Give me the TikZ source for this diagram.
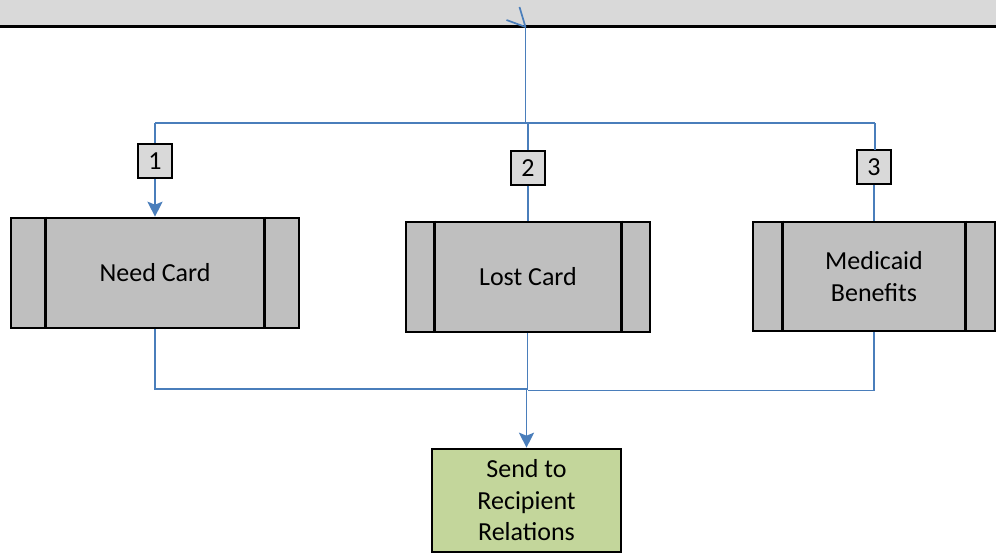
\documentclass[tikz,border=0pt]{standalone}
\usepackage{fontspec}
\setmainfont{Carlito}
\usetikzlibrary{arrows.meta}
\definecolor{flowblue}{HTML}{4A7EBB}
\definecolor{procgray}{HTML}{BFBFBF}
\definecolor{lanegray}{HTML}{D9D9D9}
\definecolor{sendgreen}{HTML}{C3D69B}
\tikzset{
  x=1pt, y=-1pt,
  txt/.style={font=\fontsize{26}{31.5}\selectfont, align=center},
  procbox/.style={txt, draw=black, line width=2.6pt, fill=procgray, minimum height=110pt, inner sep=0pt},
  numbox/.style={txt, draw=black, line width=2.6pt, fill=lanegray, minimum width=34pt, minimum height=34pt, inner sep=0pt},
  sendbox/.style={txt, draw=black, line width=2.6pt, fill=sendgreen, minimum width=189pt, minimum height=103pt, inner sep=0pt},
  flow/.style={draw=flowblue, line width=1.7pt},
  tip/.style={-{Stealth[length=15pt,width=15pt,inset=3pt]}},
}
\begin{document}
\begin{tikzpicture}
\useasboundingbox (0,0) rectangle (996,556);
% header lane
\fill[lanegray] (0,0) rectangle (996,27);
\draw[black, line width=3pt] (0,27) -- (996,27);

% process boxes
\node[procbox, minimum width=288pt] (need) at (155,273) {Need Card};
\node[procbox, minimum width=244pt] (lost) at (528,277) {Lost Card};
\node[procbox, minimum width=242pt, minimum height=109pt] (med) at (874,276.5) {Medicaid\\Benefits};
\foreach \n/\d in {need/36, lost/30, med/31}{
  \draw[line width=2.6pt] ([xshift=\d pt]\n.north west) -- ([xshift=\d pt]\n.south west);
  \draw[line width=2.6pt] ([xshift=-\d pt]\n.north east) -- ([xshift=-\d pt]\n.south east);
}
\node[sendbox] (send) at (526.5,500.5) {Send to\\Recipient\\Relations};

% branch labels
\node[numbox] (l1) at (155,161) {1};
\node[numbox] (l2) at (528,168) {2};
\node[numbox] (l3) at (874,167) {3};

% incoming flow
\coordinate (entry) at (525.5,27);
\coordinate (split) at (525.5,123);
\coordinate (s1) at (155,123);
\coordinate (s2) at (528,123);
\coordinate (s3) at (875,123);
\draw[flow] (entry) -- (split);
\draw[flow] (entry) -- ++(-6,-20);
\draw[flow] (entry) -- ++(-19,-7);
\draw[flow] (s1) -- (s3);
\draw[flow] (s1) -- (l1);
\draw[flow, tip] (l1) -- (need.north);
\draw[flow] (s2) -- (l2) -- (lost.north);
\draw[flow] (s3) |- (l3.north) (l3) -- (med.north);

% merge into send
\coordinate (m1) at (155,389);
\coordinate (mj) at (527.5,389);
\coordinate (m3) at (874,390.5);
\draw[flow] (need.south) -- (m1) -- (mj);
\draw[flow] (lost.south -| mj) -- (mj);
\draw[flow] (med.south) -- (m3) -- (528,390.5);
\draw[flow, tip] (526.5,389) -- (send.north);
\end{tikzpicture}
\end{document}
